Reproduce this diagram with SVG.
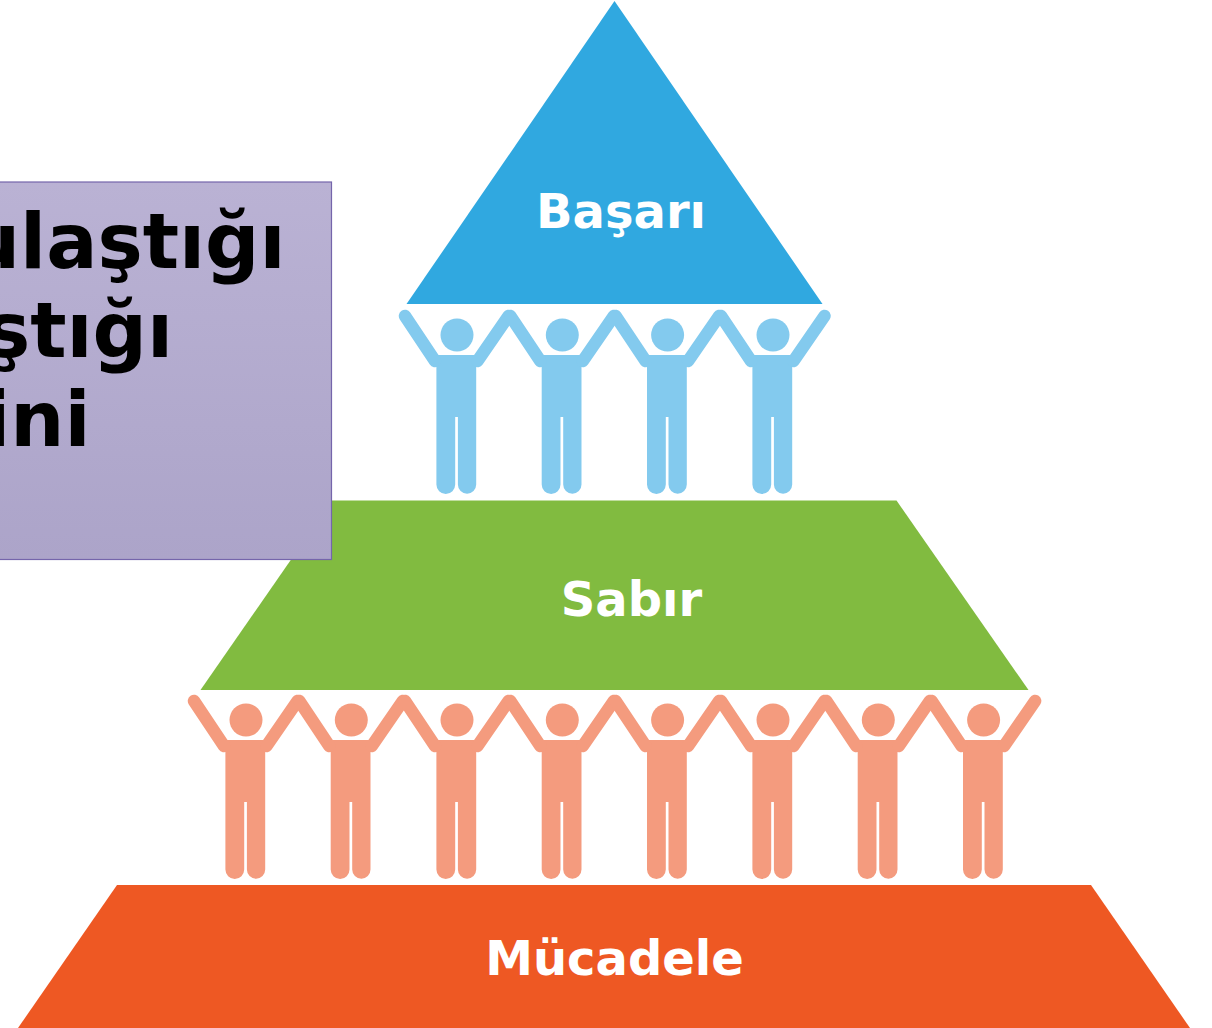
<svg xmlns="http://www.w3.org/2000/svg" width="1212" height="1028" viewBox="0 0 1212 1028">
<style>
.lbl{font-family:"DejaVu Sans",sans-serif;font-weight:700;font-size:48px;fill:#fff;text-anchor:middle}
.big{font-family:"DejaVu Sans",sans-serif;font-weight:700;font-size:76px;fill:#000;text-anchor:end}
.arm{fill:none;stroke:currentColor;stroke-width:12.5;stroke-linecap:round}
.blue{color:#83caee;fill:#83caee}
.salmon{color:#f49b7e;fill:#f49b7e}
</style>
<defs>
<linearGradient id="boxg" x1="0" y1="0" x2="0" y2="1"><stop offset="0" stop-color="#bab2d4"/><stop offset="1" stop-color="#aca4c9"/></linearGradient>
<g id="person">
<circle cx="0" cy="0" r="16.5"/>
<path d="M-20.6 20H19.2V149.5A9.15 9.15 0 0 1 0.9 149.5V82H-1.8V149.5A9.4 9.4 0 0 1 -20.6 149.5Z"/>
<path class="arm" d="M-52 -19L-22 26M20.5 26L51.5 -19"/>
</g>
</defs>
<rect width="1212" height="1028" fill="#fff"/>
<g id="node-basari"><polygon points="614.5,1 822.5,304 406.5,304" fill="#30a8e0"/><text class="lbl" x="621" y="227.5">Başarı</text></g>
<g id="node-sabir"><polygon points="332,500.5 896.5,500.5 1028.5,690 200.5,690" fill="#81bb40"/><text class="lbl" x="631.5" y="615.5">Sabır</text></g>
<g id="node-mucadele"><polygon points="117,885 1091,885 1190,1028 18,1028" fill="#ee5823"/><text class="lbl" x="614.5" y="974.5">Mücadele</text></g>
<g id="row-blue" class="blue">
<g id="p1-1"><use href="#person" x="457" y="335"/></g>
<g id="p1-2"><use href="#person" x="562.3" y="335"/></g>
<g id="p1-3"><use href="#person" x="667.6" y="335"/></g>
<g id="p1-4"><use href="#person" x="773" y="335"/></g>
</g>
<g id="row-salmon" class="salmon">
<g id="p2-1"><use href="#person" x="246" y="720"/></g>
<g id="p2-2"><use href="#person" x="351.3" y="720"/></g>
<g id="p2-3"><use href="#person" x="457" y="720"/></g>
<g id="p2-4"><use href="#person" x="562.3" y="720"/></g>
<g id="p2-5"><use href="#person" x="667.6" y="720"/></g>
<g id="p2-6"><use href="#person" x="773" y="720"/></g>
<g id="p2-7"><use href="#person" x="878.3" y="720"/></g>
<g id="p2-8"><use href="#person" x="983.6" y="720"/></g>
</g>
<g id="node-box">
<rect x="-10" y="182" width="341.5" height="377.5" fill="url(#boxg)" stroke="#7565ab" stroke-width="1.2"/>
<text class="big" x="285.5" y="268">ulaştığı</text>
<text class="big" x="173" y="357">ştığı</text>
<text class="big" x="90.5" y="446">ini</text>
</g>
</svg>
